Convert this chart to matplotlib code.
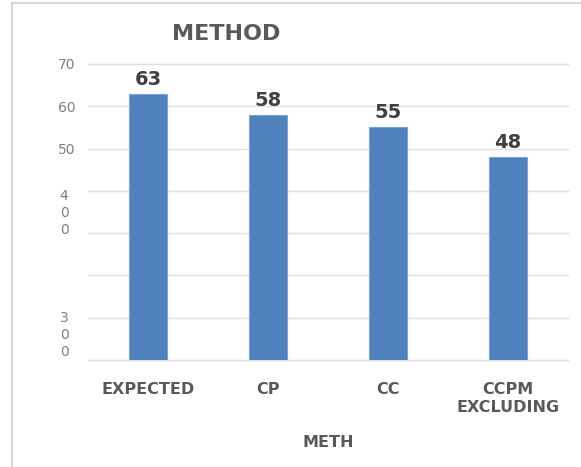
import matplotlib
matplotlib.use('Agg')
import matplotlib.pyplot as plt
from matplotlib.lines import Line2D

categories = ['EXPECTED', 'CP', 'CC', 'CCPM\nEXCLUDING']
values = [63, 58, 55, 48]
grid_levels = [0, 10, 20, 30, 40, 50, 60, 70]
major_labels = ['', '', '', '', '', '50', '60', '70']
# the odd, broken tick labels sit between grid lines in the original
odd_tick_pos = [6.6, 35.5]
odd_tick_labels = ['3\n0\n0', '4\n0\n0']

fig = plt.figure(figsize=(5.81, 4.67), dpi=100)
ax = fig.add_axes([88/581, 107/467, 480/581, 296/467])

x = list(range(len(categories)))
ax.bar(x, values, width=0.31, color='#4F81BD', edgecolor='#7BA3D6',
       linewidth=0.8, zorder=3)
for xi, v in zip(x, values):
    ax.text(xi, v + 1.2, str(v), ha='center', va='bottom', fontsize=14,
            fontweight='bold', color='#404040')

ax.set_xlim(-0.5, 3.5)
ax.set_ylim(0, 70)
ax.set_yticks(grid_levels)
ax.set_yticklabels(major_labels)
ax.set_yticks(odd_tick_pos, minor=True)
ax.set_yticklabels(odd_tick_labels, minor=True, linespacing=1.25)
ax.tick_params(axis='y', which='major', length=0, labelsize=10,
               labelcolor='#808080', pad=9)
ax.tick_params(axis='y', which='minor', length=0, labelsize=10,
               labelcolor='#808080', pad=14)
ax.grid(axis='y', which='major', color='#E0E0E0', linewidth=1.0, zorder=0)
for gl in ax.get_ygridlines():
    gl.set_clip_on(False)

ax.set_xticks(x)
ax.set_xticklabels(categories, fontsize=11.5, fontweight='bold',
                   color='#595959', linespacing=1.25)
ax.tick_params(axis='x', length=0, pad=16)
for s in ax.spines.values():
    s.set_visible(False)

ax.set_xlabel('METH', fontsize=11.5, fontweight='bold', color='#595959',
              labelpad=14)

fig.text(226/581, 1 - 34/467, 'METHOD', ha='center', va='center',
         fontsize=16, fontweight='bold', color='#595959')

# outer chart frame (only top and left visible in the crop)
fig.add_artist(Line2D([12/581, 1], [1 - 3/467, 1 - 3/467], color='#D9D9D9',
                      linewidth=1.5, transform=fig.transFigure))
fig.add_artist(Line2D([12/581, 12/581], [0, 1 - 3/467], color='#D9D9D9',
                      linewidth=1.5, transform=fig.transFigure))

fig.savefig('out.png', dpi=100)
